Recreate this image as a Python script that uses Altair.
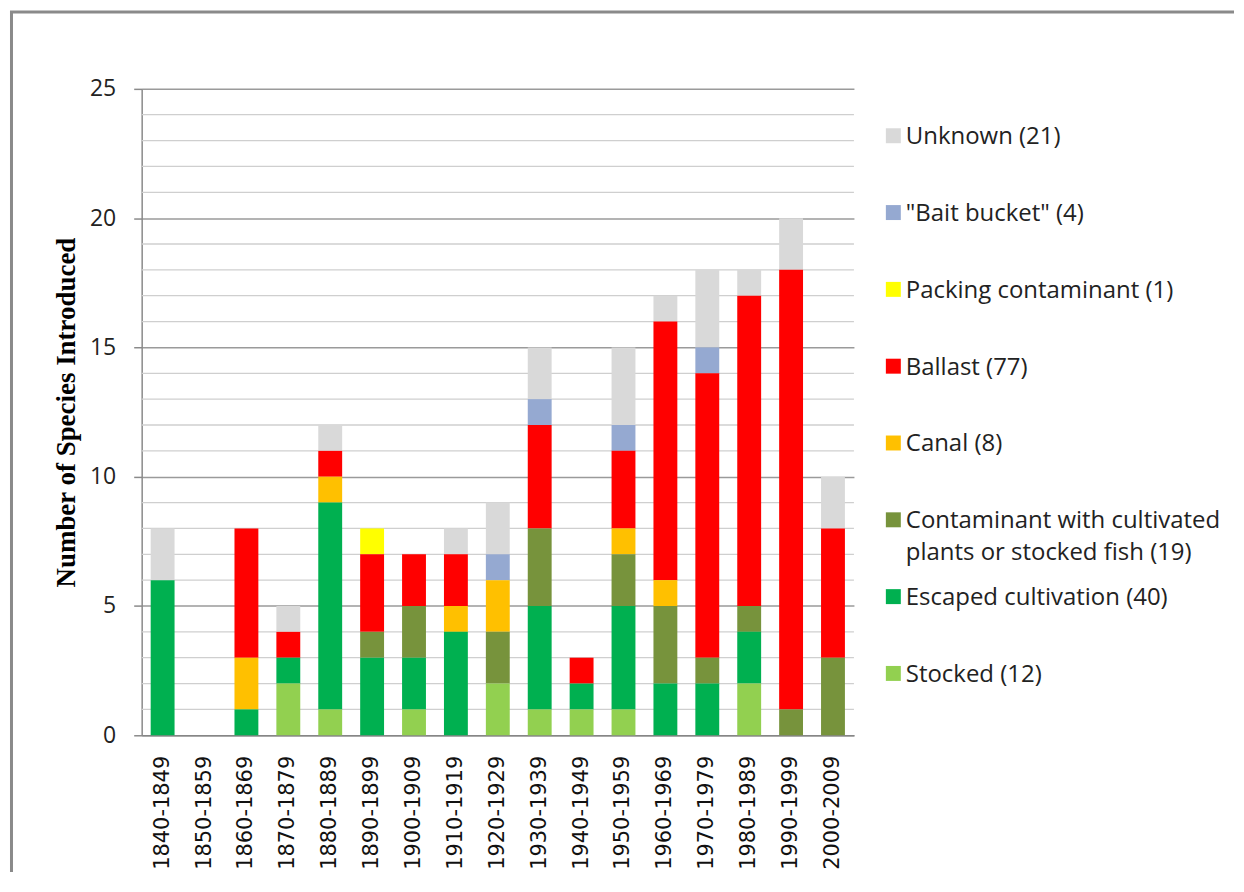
import altair as alt
import pandas as pd

decades = ["1840-1849", "1850-1859", "1860-1869", "1870-1879", "1880-1889",
           "1890-1899", "1900-1909", "1910-1919", "1920-1929", "1930-1939",
           "1940-1949", "1950-1959", "1960-1969", "1970-1979", "1980-1989",
           "1990-1999", "2000-2009"]

# legend order (top to bottom); stacking is the reverse (Stocked at bottom)
categories = ["Unknown", "\"Bait bucket\"", "Packing contaminant", "Ballast", "Canal",
              "Contaminant with cultivated plants or stocked fish",
              "Escaped cultivation", "Stocked"]
legend_labels = ["Unknown (21)", "\"Bait bucket\" (4)", "Packing contaminant (1)",
                 "Ballast (77)", "Canal (8)",
                 "Contaminant with cultivated\nplants or stocked fish (19)",
                 "Escaped cultivation (40)", "Stocked (12)"]
colors = ["#D9D9D9", "#95A9D1", "#FFFF00", "#FF0000", "#FFC000",
          "#77933C", "#00B050", "#92D050"]

unknown =     [2, 0, 0, 1, 1, 0, 0, 1, 2, 2, 0, 3, 1, 3, 1, 2, 2]
bait =        [0, 0, 0, 0, 0, 0, 0, 0, 1, 1, 0, 1, 0, 1, 0, 0, 0]
packing =     [0, 0, 0, 0, 0, 1, 0, 0, 0, 0, 0, 0, 0, 0, 0, 0, 0]
ballast =     [0, 0, 5, 1, 1, 3, 2, 2, 0, 4, 1, 3, 10, 11, 12, 17, 5]
canal =       [0, 0, 2, 0, 1, 0, 0, 1, 2, 0, 0, 1, 1, 0, 0, 0, 0]
contaminant = [0, 0, 0, 0, 0, 1, 2, 0, 2, 3, 0, 2, 3, 1, 1, 1, 3]
escaped =     [6, 0, 1, 1, 8, 3, 2, 4, 0, 4, 1, 4, 2, 2, 2, 0, 0]
stocked =     [0, 0, 0, 2, 1, 0, 1, 0, 2, 1, 1, 1, 0, 0, 2, 0, 0]

series = [unknown, bait, packing, ballast, canal, contaminant, escaped, stocked]

major_ticks = [0, 5, 10, 15, 20, 25]
minor_ticks = [v for v in range(0, 26) if v % 5 != 0]

rows = []
for ci, (cat, vals) in enumerate(zip(categories, series)):
    for d, v in zip(decades, vals):
        if v > 0:
            rows.append({"decade": d, "category": cat, "count": v,
                         "stack": len(categories) - ci})
df = pd.DataFrame(rows)

color_scale = alt.Scale(domain=categories, range=colors)

minor = alt.Chart(pd.DataFrame({"v": minor_ticks})).mark_rule(
    color="#cfcfcf", strokeWidth=1.3
).encode(
    y=alt.Y("v:Q", scale=alt.Scale(domain=[0, 25], nice=False), axis=None)
)

bars = alt.Chart(df).mark_bar().encode(
    x=alt.X("decade:N", sort=decades,
            scale=alt.Scale(domain=decades, paddingInner=0.43, paddingOuter=0.215),
            axis=alt.Axis(title=None, labelAngle=-90, labelFont="DejaVu Sans",
                          labelFontSize=21, labelColor="#111", labelPadding=20,
                          ticks=False, tickSize=0, domainColor="#868686",
                          domainWidth=1.5, grid=False)),
    y=alt.Y("count:Q", stack="zero",
            scale=alt.Scale(domain=[0, 25], nice=False),
            axis=alt.Axis(values=major_ticks, title="Number of Species Introduced",
                          titleFont="Liberation Serif", titleFontWeight="bold",
                          titleFontSize=27, titleColor="#000", titlePadding=9,
                          labelFont="Open Sans", labelFontSize=23, labelColor="#222",
                          labelPadding=18, tickSize=8, tickColor="#8a8a8a",
                          tickWidth=1.5, domainColor="#8a8a8a", domainWidth=1.5,
                          grid=True, gridColor="#9a9a9a", gridWidth=1.5)),
    color=alt.Color("category:N", scale=color_scale, legend=None),
    order=alt.Order("stack:Q", sort="ascending"),
)

leg = pd.DataFrame({"category": categories, "label": legend_labels,
                    "idx": list(range(len(categories)))})
leg_y = alt.Y("idx:O", axis=None, scale=alt.Scale(range=[47, 586], padding=0))

leg_sym = alt.Chart(leg).mark_square(size=225, opacity=1, filled=True).encode(
    x=alt.value(753.5), y=leg_y,
    color=alt.Color("category:N", scale=color_scale, legend=None),
)
leg_txt = alt.Chart(leg).mark_text(
    align="left", baseline="top", dy=-10.5, font="Open Sans", fontSize=24,
    lineBreak="\n", lineHeight=32, color="#222"
).encode(
    x=alt.value(766), y=leg_y, text="label:N"
)

dummy = pd.DataFrame({"k": [0]})
frame_left = alt.Chart(dummy).mark_rule(color="#8a8a8a", strokeWidth=3).encode(
    x=alt.value(-130.5), y=alt.value(-78), y2=alt.value(785)
)
frame_top = alt.Chart(dummy).mark_rule(color="#8a8a8a", strokeWidth=3).encode(
    x=alt.value(-132), x2=alt.value(1095), y=alt.value(-77)
)

chart = alt.layer(minor, bars, leg_sym, leg_txt, frame_left, frame_top).resolve_scale(
    y="independent"
).properties(
    width=714, height=648, padding=0, background="white"
).configure_view(stroke=None)

chart.save("out.html", embed_options={"renderer": "svg", "actions": False})
